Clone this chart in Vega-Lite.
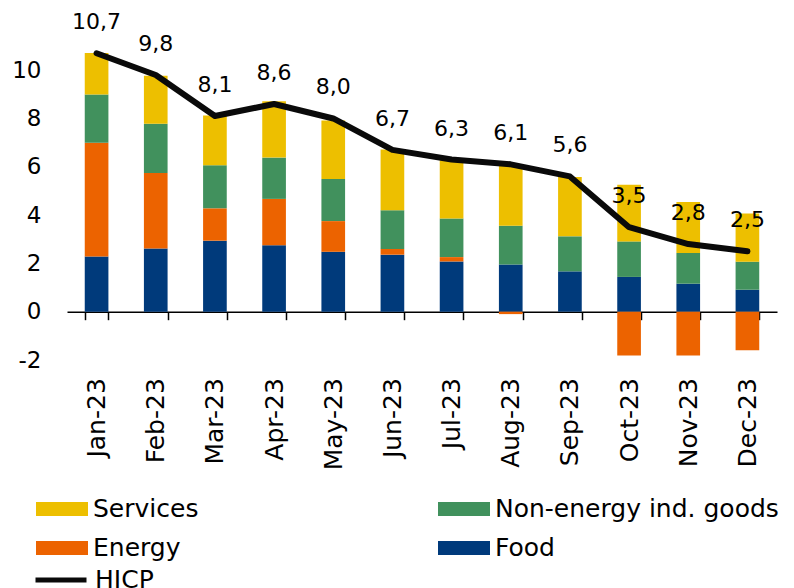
{
  "$schema": "https://vega.github.io/schema/vega-lite/v6.json",
  "width": 710,
  "height": 314,
  "autosize": {"type": "none"},
  "padding": {"left": 67, "top": 46, "right": 17, "bottom": 228},
  "config": {
    "view": {"stroke": null},
    "font": "DejaVu Sans",
    "locale": {"number": {"decimal": ",", "thousands": ".", "grouping": [3], "currency": ["", " €"], "minus": "-"}}
  },
  "datasets": {
    "components": [
      {"month": "Jan-23", "component": "Food", "value": 2.29},
      {"month": "Jan-23", "component": "Energy", "value": 4.70},
      {"month": "Jan-23", "component": "Non-energy ind. goods", "value": 2.00},
      {"month": "Jan-23", "component": "Services", "value": 1.72},
      {"month": "Feb-23", "component": "Food", "value": 2.62},
      {"month": "Feb-23", "component": "Energy", "value": 3.12},
      {"month": "Feb-23", "component": "Non-energy ind. goods", "value": 2.04},
      {"month": "Feb-23", "component": "Services", "value": 1.99},
      {"month": "Mar-23", "component": "Food", "value": 2.94},
      {"month": "Mar-23", "component": "Energy", "value": 1.34},
      {"month": "Mar-23", "component": "Non-energy ind. goods", "value": 1.78},
      {"month": "Mar-23", "component": "Services", "value": 2.06},
      {"month": "Apr-23", "component": "Food", "value": 2.75},
      {"month": "Apr-23", "component": "Energy", "value": 1.92},
      {"month": "Apr-23", "component": "Non-energy ind. goods", "value": 1.71},
      {"month": "Apr-23", "component": "Services", "value": 2.33},
      {"month": "May-23", "component": "Food", "value": 2.48},
      {"month": "May-23", "component": "Energy", "value": 1.27},
      {"month": "May-23", "component": "Non-energy ind. goods", "value": 1.74},
      {"month": "May-23", "component": "Services", "value": 2.43},
      {"month": "Jun-23", "component": "Food", "value": 2.36},
      {"month": "Jun-23", "component": "Energy", "value": 0.24},
      {"month": "Jun-23", "component": "Non-energy ind. goods", "value": 1.60},
      {"month": "Jun-23", "component": "Services", "value": 2.51},
      {"month": "Jul-23", "component": "Food", "value": 2.08},
      {"month": "Jul-23", "component": "Energy", "value": 0.18},
      {"month": "Jul-23", "component": "Non-energy ind. goods", "value": 1.60},
      {"month": "Jul-23", "component": "Services", "value": 2.41},
      {"month": "Aug-23", "component": "Food", "value": 1.95},
      {"month": "Aug-23", "component": "Energy", "value": -0.10},
      {"month": "Aug-23", "component": "Non-energy ind. goods", "value": 1.61},
      {"month": "Aug-23", "component": "Services", "value": 2.50},
      {"month": "Sep-23", "component": "Food", "value": 1.67},
      {"month": "Sep-23", "component": "Energy", "value": 0.0},
      {"month": "Sep-23", "component": "Non-energy ind. goods", "value": 1.45},
      {"month": "Sep-23", "component": "Services", "value": 2.46},
      {"month": "Oct-23", "component": "Food", "value": 1.44},
      {"month": "Oct-23", "component": "Energy", "value": -1.81},
      {"month": "Oct-23", "component": "Non-energy ind. goods", "value": 1.47},
      {"month": "Oct-23", "component": "Services", "value": 2.35},
      {"month": "Nov-23", "component": "Food", "value": 1.16},
      {"month": "Nov-23", "component": "Energy", "value": -1.81},
      {"month": "Nov-23", "component": "Non-energy ind. goods", "value": 1.27},
      {"month": "Nov-23", "component": "Services", "value": 2.11},
      {"month": "Dec-23", "component": "Food", "value": 0.91},
      {"month": "Dec-23", "component": "Energy", "value": -1.60},
      {"month": "Dec-23", "component": "Non-energy ind. goods", "value": 1.16},
      {"month": "Dec-23", "component": "Services", "value": 2.00}
    ],
    "hicp": [
      {"month": "Jan-23", "hicp": 10.7},
      {"month": "Feb-23", "hicp": 9.8},
      {"month": "Mar-23", "hicp": 8.1},
      {"month": "Apr-23", "hicp": 8.6},
      {"month": "May-23", "hicp": 8.0},
      {"month": "Jun-23", "hicp": 6.7},
      {"month": "Jul-23", "hicp": 6.3},
      {"month": "Aug-23", "hicp": 6.1},
      {"month": "Sep-23", "hicp": 5.6},
      {"month": "Oct-23", "hicp": 3.5},
      {"month": "Nov-23", "hicp": 2.8},
      {"month": "Dec-23", "hicp": 2.5}
    ]
  },
  "layer": [
    {
      "data": {"name": "components"},
      "transform": [
        {"calculate": "indexof(['Food','Energy','Non-energy ind. goods','Services'], datum.component)", "as": "stackorder"}
      ],
      "mark": {"type": "bar"},
      "encoding": {
        "x": {
          "field": "month", "type": "nominal", "sort": null,
          "scale": {"paddingInner": 0.6, "paddingOuter": 0.3},
          "axis": {
            "title": null, "labelAngle": -90, "labelFontSize": 25, "labelPadding": 58,
            "labelColor": "black", "offset": -48.3, "domainColor": "black", "domainWidth": 1.5,
            "tickColor": "black", "tickWidth": 1.5, "tickSize": 8, "tickBand": "extent"
          }
        },
        "y": {
          "field": "value", "type": "quantitative",
          "scale": {"domain": [-2, 11], "nice": false, "zero": false},
          "axis": {
            "title": null, "values": [-2, 0, 2, 4, 6, 8, 10], "domain": false, "ticks": false,
            "grid": false, "labelFontSize": 23, "labelPadding": 26, "labelColor": "black"
          }
        },
        "color": {
          "field": "component", "type": "nominal",
          "scale": {
            "domain": ["Services", "Energy", "Non-energy ind. goods", "Food"],
            "range": ["#EDBF00", "#EC6300", "#41915D", "#003A7B"]
          },
          "legend": {
            "title": null, "orient": "none", "legendX": -31, "legendY": 437, "columns": 2,
            "columnPadding": 239, "rowPadding": -20, "padding": 0,
            "symbolType": "M-1,-0.27H1V0.27H-1Z", "symbolSize": 2704, "symbolStrokeWidth": 0,
            "labelFontSize": 25, "labelOffset": 5, "labelColor": "black", "labelLimit": 400
          }
        },
        "order": {"field": "stackorder", "type": "quantitative"}
      }
    },
    {
      "data": {"name": "hicp"},
      "mark": {"type": "line", "strokeWidth": 6, "strokeJoin": "round", "strokeCap": "round"},
      "encoding": {
        "x": {"field": "month", "type": "nominal", "sort": null},
        "y": {"field": "hicp", "type": "quantitative"},
        "stroke": {
          "datum": "HICP",
          "scale": {"range": ["#0a0a0a"]},
          "legend": {
            "title": null, "orient": "none", "legendX": -34, "legendY": 506, "padding": 0,
            "symbolType": "stroke", "symbolSize": 2601, "symbolStrokeWidth": 5,
            "labelFontSize": 25, "labelOffset": 6, "labelColor": "black"
          }
        }
      }
    },
    {
      "data": {"name": "hicp"},
      "mark": {"type": "text", "dy": -31, "fontSize": 22, "baseline": "middle", "color": "black"},
      "encoding": {
        "x": {"field": "month", "type": "nominal", "sort": null},
        "y": {"field": "hicp", "type": "quantitative"},
        "text": {"field": "hicp", "type": "quantitative", "format": ".1f"}
      }
    }
  ]
}
